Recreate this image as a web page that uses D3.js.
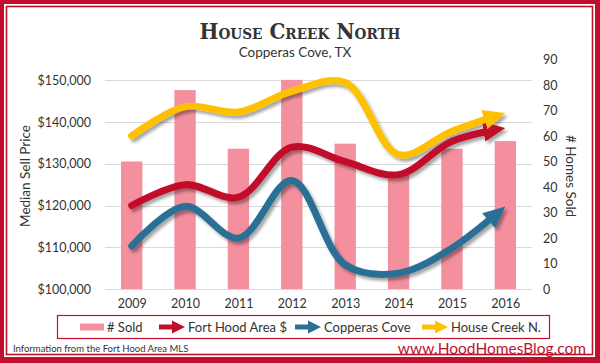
<!DOCTYPE html>
<html>
<head>
<meta charset="utf-8">
<script src="https://cdn.jsdelivr.net/npm/d3@7"></script>
<style>
  body { margin: 0; background: #fff; }
  text { font-family: Lato, "Open Sans", sans-serif; fill: #333; }
</style>
</head>
<body>
<div id="chart"></div>
<script>
const years = ['2009', '2010', '2011', '2012', '2013', '2014', '2015', '2016'];
const sold = [50, 78, 55, 82, 57, 45, 55, 58];
const fortHood = [120000, 125000, 122000, 134000, 130500, 127400, 135400, 138600];
const copperasCove = [110300, 119800, 112200, 126000, 105800, 103800, 109800, 119800];
const houseCreek = [136700, 143700, 142400, 147400, 149500, 132200, 137800, 142200];
const priceTicks = [100000, 110000, 120000, 130000, 140000, 150000];
const soldTicks = [0, 10, 20, 30, 40, 50, 60, 70, 80, 90];

const W = 600, H = 363;
const red = '#c10f2b', blue = '#2b6f95', yellow = '#ffc000', pink = '#f4909d';

const series = [
    { name: 'Fort Hood Area $', values: fortHood, color: red },
    { name: 'Copperas Cove', values: copperasCove, color: blue },
    { name: 'House Creek N.', values: houseCreek, color: yellow }
];

const svg = d3.select('#chart').append('svg')
    .attr('width', W)
    .attr('height', H);

// frame
svg.append('rect').attr('width', W).attr('height', H).attr('fill', red);
svg.append('rect').attr('x', 4).attr('y', 4).attr('width', W - 9).attr('height', H - 10).attr('fill', '#fff');
svg.append('rect').attr('x', 6.5).attr('y', 6.5).attr('width', W - 14).attr('height', H - 15)
    .attr('fill', 'none').attr('stroke', red).attr('stroke-width', 1.6);

const defs = svg.append('defs');
const shadow = defs.append('filter').attr('id', 'shadow')
    .attr('x', '-10%').attr('y', '-10%').attr('width', '130%').attr('height', '140%');
shadow.append('feDropShadow')
    .attr('dx', 2.5).attr('dy', 3).attr('stdDeviation', 1.6)
    .attr('flood-color', '#000').attr('flood-opacity', 0.35);

series.forEach((s, i) => {
    defs.append('marker')
        .attr('id', 'arrow' + i)
        .attr('markerUnits', 'userSpaceOnUse')
        .attr('viewBox', '0 0 22 22')
        .attr('markerWidth', 22).attr('markerHeight', 22)
        .attr('refX', 22).attr('refY', 11)
        .attr('orient', 'auto')
        .append('path')
        .attr('d', 'M0,1 L22,11 L0,21 Z')
        .attr('fill', s.color);
});

const x = d3.scalePoint().domain(years).range([105, 532]).padding(0.5);
const step = x.step();
const yL = d3.scaleLinear().domain([100000, 155000]).range([289, 59.5]);
const yR = d3.scaleLinear().domain([0, 90]).range([289, 59.5]);

// gridlines
svg.append('g').selectAll('line')
    .data(priceTicks)
    .enter().append('line')
    .attr('x1', 105).attr('x2', 532)
    .attr('y1', d => Math.round(yL(d)) + 0.5)
    .attr('y2', d => Math.round(yL(d)) + 0.5)
    .attr('stroke', '#d9d9d9');

// axes
const leftAxis = svg.append('g')
    .attr('transform', 'translate(97,0)')
    .call(d3.axisLeft(yL).tickValues(priceTicks).tickSize(0).tickPadding(6)
        .tickFormat(d => '$' + d3.format(',')(d)));
const rightAxis = svg.append('g')
    .attr('transform', 'translate(537,0)')
    .call(d3.axisRight(yR).tickValues(soldTicks).tickSize(0).tickPadding(6));
const bottomAxis = svg.append('g')
    .attr('transform', 'translate(0,293)')
    .call(d3.axisBottom(x).tickSize(0).tickPadding(6));
[leftAxis, rightAxis, bottomAxis].forEach(a => {
    a.select('.domain').remove();
    a.selectAll('text').style('font-size', '12.5px').attr('fill', '#333');
});

svg.append('text')
    .attr('transform', 'translate(30,176) rotate(-90)')
    .attr('text-anchor', 'middle')
    .style('font-size', '13.5px')
    .text('Median Sell Price');
svg.append('text')
    .attr('transform', 'translate(566,176) rotate(90)')
    .attr('text-anchor', 'middle')
    .style('font-size', '13.5px')
    .text('# Homes Sold');

// bars
svg.append('g').selectAll('rect')
    .data(years)
    .enter().append('rect')
    .attr('x', (d) => x(d) - step * 0.2)
    .attr('y', (d, i) => yR(sold[i]))
    .attr('width', step * 0.4)
    .attr('height', (d, i) => yR(0) - yR(sold[i]))
    .attr('fill', pink);

// lines
const line = d3.line()
    .x((d, i) => x(years[i]))
    .y(d => yL(d))
    .curve(d3.curveCatmullRom.alpha(0.5));

const lines = svg.append('g').attr('filter', 'url(#shadow)');
series.forEach((s, i) => {
    const p = lines.append('path')
        .attr('d', line(s.values))
        .attr('fill', 'none')
        .attr('stroke', s.color)
        .attr('stroke-width', 7)
        .attr('stroke-linecap', 'round')
        .attr('marker-end', 'url(#arrow' + i + ')');
    const len = p.node().getTotalLength();
    p.attr('stroke-dasharray', (len - 13) + ' ' + len);
});

// title
svg.append('text')
    .attr('x', 300).attr('y', 38.5)
    .attr('text-anchor', 'middle')
    .attr('textLength', 201).attr('lengthAdjust', 'spacingAndGlyphs')
    .style('font-family', '"DejaVu Serif Condensed", "DejaVu Serif", serif')
    .style('font-weight', 'bold')
    .style('font-variant', 'small-caps')
    .style('font-size', '22px')
    .text('House Creek North');
svg.append('text')
    .attr('x', 295).attr('y', 57)
    .attr('text-anchor', 'middle')
    .style('font-size', '13.5px')
    .text('Copperas Cove, TX');

// legend
const legend = svg.append('g');
legend.append('rect')
    .attr('x', 57.5).attr('y', 315.5).attr('width', 492).attr('height', 23)
    .attr('fill', 'none').attr('stroke', red).attr('stroke-width', 1.2);
legend.append('rect')
    .attr('x', 80).attr('y', 323.5).attr('width', 24).attr('height', 7).attr('fill', pink);
legend.append('text').attr('x', 107).attr('y', 331.5).style('font-size', '13px').text('# Sold');

const legendX = [159, 295, 422];
series.forEach((s, i) => {
    const lx = legendX[i];
    legend.append('line')
        .attr('x1', lx).attr('x2', lx + 16)
        .attr('y1', 327).attr('y2', 327)
        .attr('stroke', s.color).attr('stroke-width', 5);
    legend.append('path')
        .attr('d', `M${lx + 13},320.5 L${lx + 26},327 L${lx + 13},333.5 Z`)
        .attr('fill', s.color);
    legend.append('text')
        .attr('x', lx + 29).attr('y', 331.5)
        .style('font-size', '13px')
        .text(s.name);
});

// footer
svg.append('text')
    .attr('x', 13).attr('y', 352)
    .style('font-size', '9.5px')
    .text('Information from the Fort Hood Area MLS');
svg.append('text')
    .attr('x', 586).attr('y', 354)
    .attr('text-anchor', 'end')
    .style('font-size', '15.5px')
    .style('fill', red)
    .text('www.HoodHomesBlog.com');
</script>
</body>
</html>
